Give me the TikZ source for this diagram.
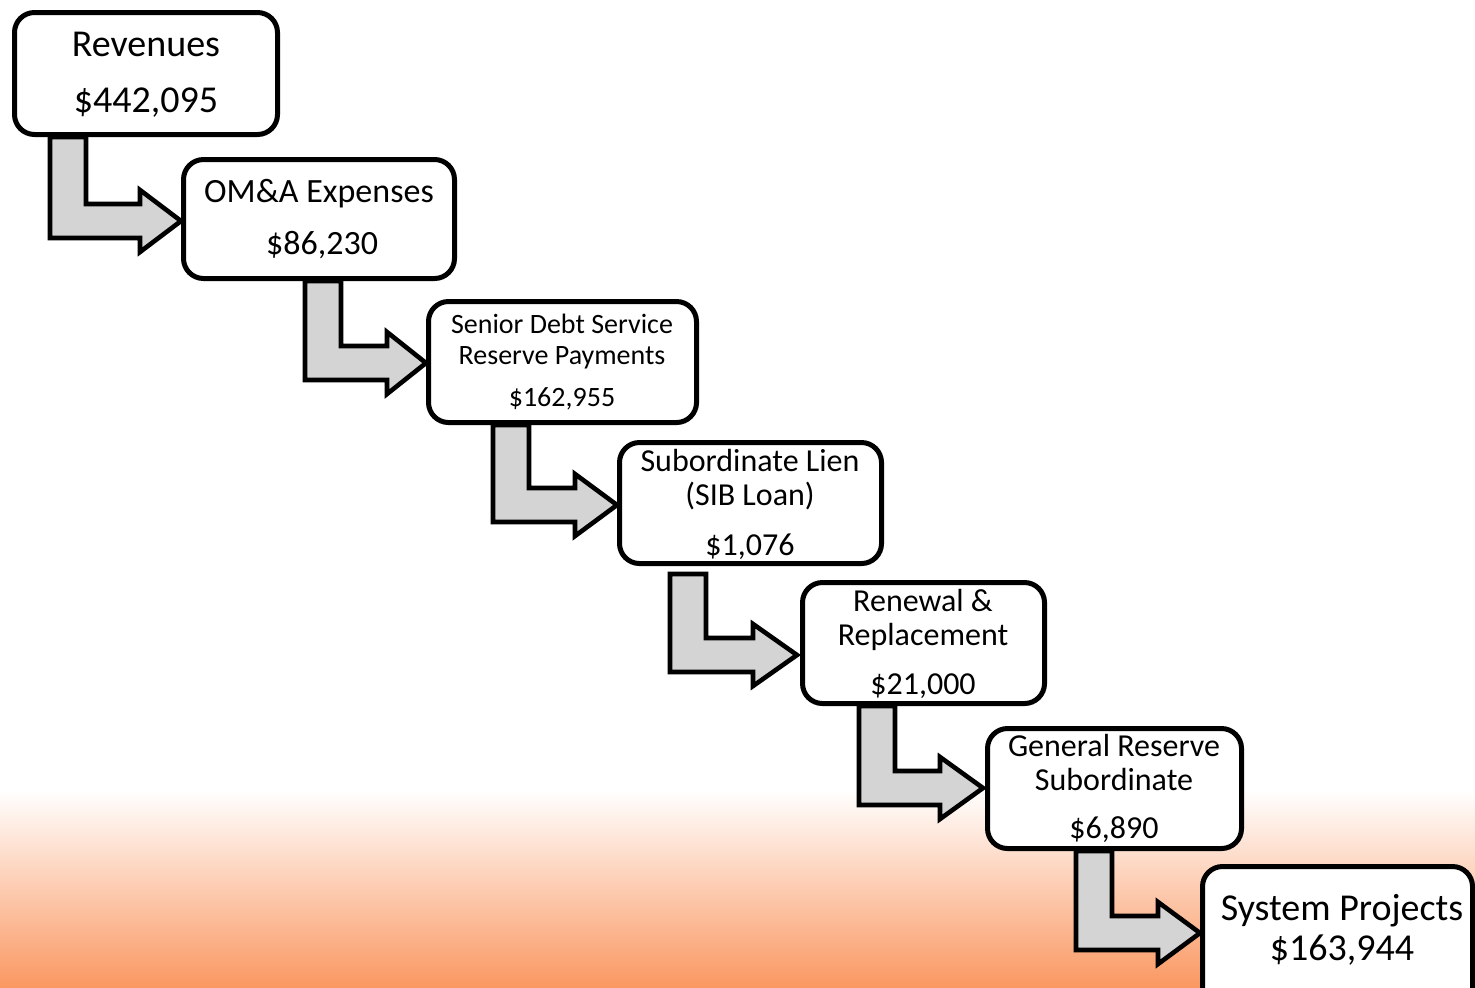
\documentclass[tikz,border=0pt]{standalone}
\usepackage{fontspec}
\setmainfont{Carlito}
\usetikzlibrary{fit}
\definecolor{orng}{RGB}{250,152,98}
\definecolor{arrgray}{RGB}{212,212,212}
\tikzset{
  box/.style={draw=black, line width=2.5pt, rounded corners=10pt, fill=white, inner sep=0pt},
  arrowst/.style={draw=black, line width=2.3pt, fill=arrgray, line join=miter},
  lbl/.style={anchor=base, inner sep=0pt, text=black},
}
\newcommand\bentarrow[5]{%
  \draw[arrowst] (#1,#2) -- (#1+36,#2) -- (#1+36,#3-34) -- (#4,#3-34) -- (#4,#3-17-31)
    -- (#5,#3-17) -- (#4,#3-17+31) -- (#4,#3) -- (#1,#3) -- cycle;}
\newcommand\fs[1]{\fontsize{#1}{#1}\selectfont}
\begin{document}
\begin{tikzpicture}[x=0.5pt,y=-0.5pt]
\useasboundingbox (0,0) rectangle (1475,987);
\clip (0,0) rectangle (1475,987);
\fill[white] (0,0) rectangle (1475,987);
\shade[top color=white, bottom color=orng] (0,790) rectangle (1475,987);
% arrows
\bentarrow{50}{137}{238}{140}{181}
\bentarrow{305}{281}{380}{387}{426}
\bentarrow{493}{425}{522}{575}{617}
\bentarrow{670}{574}{672}{753}{797}
\bentarrow{859}{706}{805}{940}{983}
\bentarrow{1076}{851}{950}{1158}{1200}
% boxes
\coordinate (p1a) at (14.5,12.5); \coordinate (p1b) at (277.5,134.5);
\node[box, fit=(p1a)(p1b)] (b1) {};
\coordinate (p2a) at (183.5,159.5); \coordinate (p2b) at (454.5,278.5);
\node[box, fit=(p2a)(p2b)] (b2) {};
\coordinate (p3a) at (428.5,301.5); \coordinate (p3b) at (696.5,422.5);
\node[box, fit=(p3a)(p3b)] (b3) {};
\coordinate (p4a) at (619.5,442.5); \coordinate (p4b) at (881.5,563.5);
\node[box, fit=(p4a)(p4b)] (b4) {};
\coordinate (p5a) at (802.5,582.5); \coordinate (p5b) at (1044.5,703.5);
\node[box, fit=(p5a)(p5b)] (b5) {};
\coordinate (p6a) at (987.5,728.5); \coordinate (p6b) at (1241.5,848.5);
\node[box, fit=(p6a)(p6b)] (b6) {};
\coordinate (p7a) at (1202.5,866.5); \coordinate (p7b) at (1472.5,1010);
\node[box, fit=(p7a)(p7b)] (b7) {};
% labels
\node[lbl, font=\fs{19}] (t1a) at (146,56) {Revenues};
\node[lbl, font=\fs{19}] (t1b) at (146,112) {\$442,095};
\node[lbl, font=\fs{17}] (t2a) at (319,202) {OM\&A Expenses};
\node[lbl, font=\fs{17}] (t2b) at (322,254) {\$86,230};
\node[lbl, font=\fs{14}] (t3a) at (562,333) {Senior Debt Service};
\node[lbl, font=\fs{14}] (t3b) at (562,364) {Reserve Payments};
\node[lbl, font=\fs{14}] (t3c) at (562,406) {\$162,955};
\node[lbl, font=\fs{16}] (t4a) at (750,471) {Subordinate Lien};
\node[lbl, font=\fs{16}] (t4b) at (750,505) {(SIB Loan)};
\node[lbl, font=\fs{16}] (t4c) at (750,555) {\$1,076};
\node[lbl, font=\fs{16}] (t5a) at (923,611) {Renewal \&};
\node[lbl, font=\fs{16}] (t5b) at (923,645) {Replacement};
\node[lbl, font=\fs{16}] (t5c) at (923,694) {\$21,000};
\node[lbl, font=\fs{16}] (t6a) at (1114,756) {General Reserve};
\node[lbl, font=\fs{16}] (t6b) at (1114,790) {Subordinate};
\node[lbl, font=\fs{16}] (t6c) at (1114,838) {\$6,890};
\node[lbl, font=\fs{19}] (t7a) at (1342,920) {System Projects};
\node[lbl, font=\fs{19}] (t7b) at (1342,960) {\$163,944};
\end{tikzpicture}
\end{document}
